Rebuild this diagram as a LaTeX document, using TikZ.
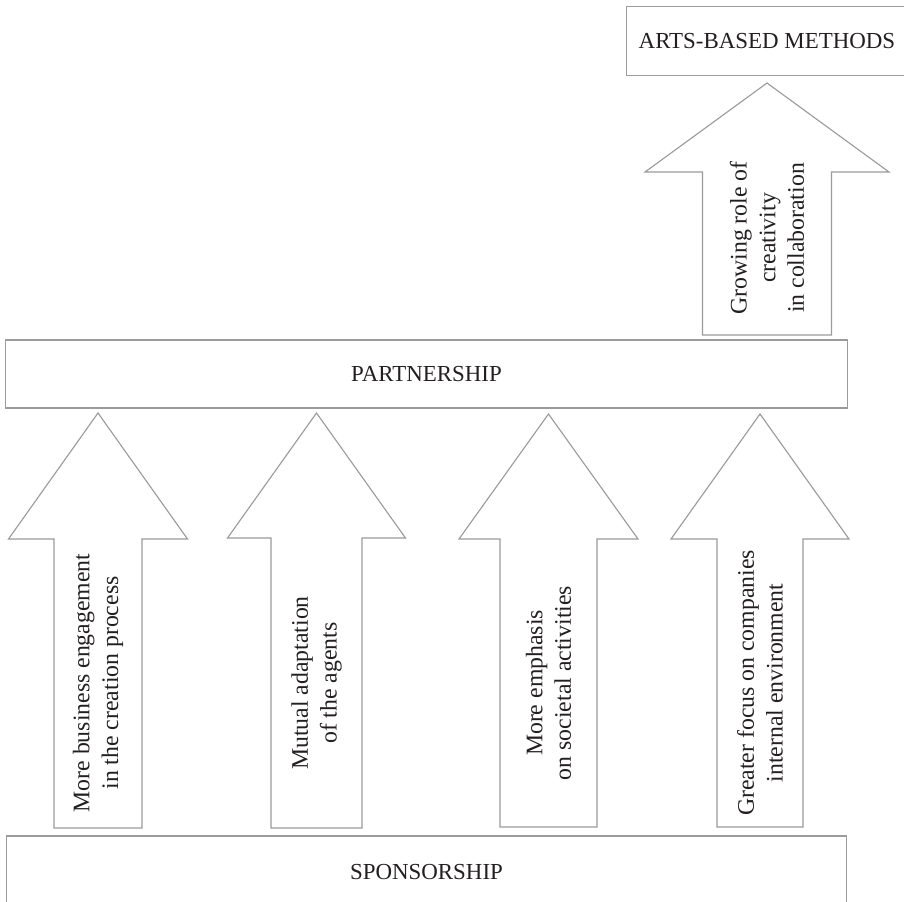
\documentclass[tikz,border=0pt]{standalone}
\usepackage{fontspec}
\setmainfont{Liberation Serif}
\definecolor{linegray}{HTML}{9B9B9B}
\definecolor{textdark}{HTML}{231F20}

\begin{document}
\begin{tikzpicture}[x=0.025cm, y=-0.025cm,
    stage/.style={draw=linegray, line width=0.8pt, inner sep=0pt, text=textdark, font=\fontsize{16.3}{20.6}\selectfont},
    blockarrow/.style={draw=linegray, line width=0.8pt, fill=white, line join=miter},
    arrowtext/.style={rotate=90, align=center, inner sep=0pt, text=textdark, font=\fontsize{16.9}{20.4}\selectfont}]
    \useasboundingbox (0,0) rectangle (904,902);

    % the three levels
    \node[stage, draw=none, minimum width=7cm, minimum height=1.7cm] (arts) at (767,41) {ARTS-BASED METHODS};
    \draw[linegray, line width=0.8pt] ([xshift=1cm]arts.north east) -- (arts.north west)
        -- (arts.south west) -- ([xshift=1cm]arts.south east);
    \node[stage, minimum width=21.025cm, minimum height=1.7cm] (partner) at (426.5,374) {PARTNERSHIP};
    \node[stage, minimum width=20.975cm, minimum height=1.8cm] (sponsor) at (426.5,872) {SPONSORSHIP};

    % arrows from sponsorship to partnership
    \foreach \cx/\tip/\base/\bot/\sh/\hh/\name/\txt in {
        98/413/539/828/44/89.5/engage/{More business engagement\\in the creation process},
        316.5/413/538/828/45.5/89/mutual/{Mutual adaptation\\of the agents},
        548.5/414/539/827/48.5/89.5/emphasis/{More emphasis\\on societal activities},
        760/414/539/827/43/89/focus/{Greater focus on companies\\internal environment}}{
        \draw[blockarrow] (\cx-\sh,\bot) -- (\cx-\sh,\base) -- (\cx-\hh,\base) -- (\cx,\tip)
            -- (\cx+\hh,\base) -- (\cx+\sh,\base) -- (\cx+\sh,\bot) -- cycle;
        \node[arrowtext] (\name) at (\cx,683) {\txt};
    }

    % arrow from partnership to arts-based methods
    \draw[blockarrow] (702.5,335) -- (702.5,172) -- (645,172) -- (767,83)
        -- (889,172) -- (831.5,172) -- (831.5,335) -- cycle;
    \node[arrowtext] (creativity) at (767,238) {Growing role of\\creativity\\in collaboration};
\end{tikzpicture}
\end{document}
